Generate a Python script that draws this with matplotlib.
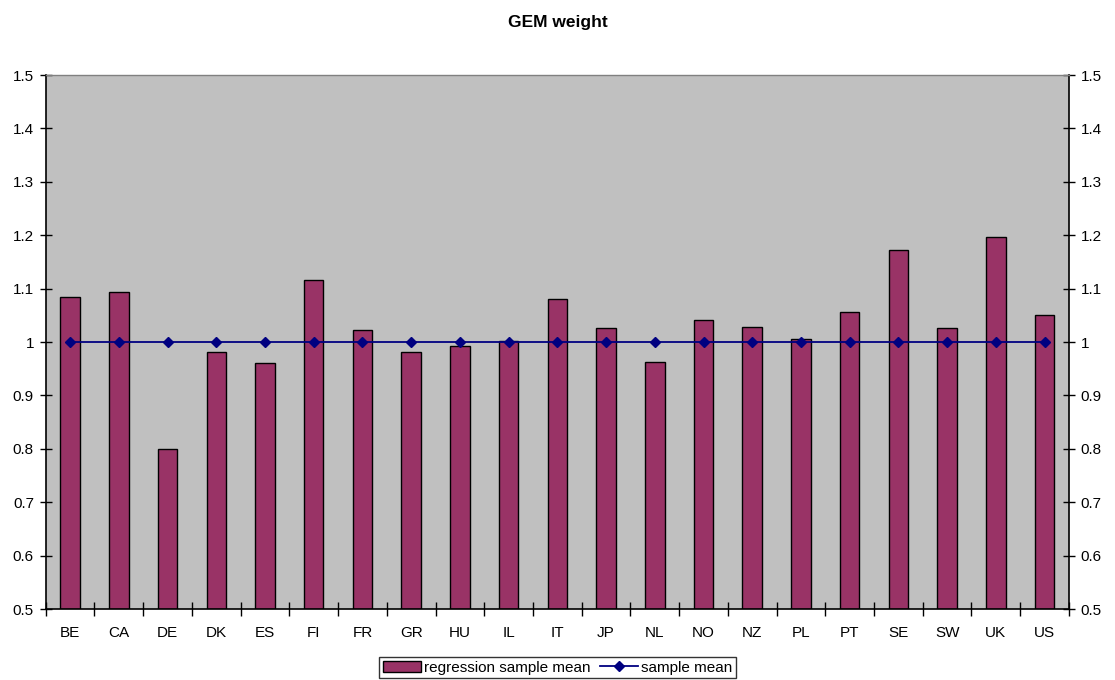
import numpy as np
import matplotlib
matplotlib.use("Agg")
import matplotlib.pyplot as plt

countries = ["BE", "CA", "DE", "DK", "ES", "FI", "FR", "GR", "HU", "IL", "IT",
             "JP", "NL", "NO", "NZ", "PL", "PT", "SE", "SW", "UK", "US"]
regression_mean = [1.085, 1.094, 0.800, 0.982, 0.961, 1.116, 1.022, 0.981, 0.993, 1.002, 1.081,
                   1.026, 0.962, 1.042, 1.028, 1.006, 1.056, 1.172, 1.026, 1.197, 1.051]
sample_mean = [1.0] * len(countries)

plt.rcParams['font.family'] = ['Liberation Sans', 'DejaVu Sans']

fig = plt.figure(figsize=(11.15, 6.8), dpi=100)
ax = fig.add_axes([0.041, 0.1044, 0.9177, 0.7853])
ax.set_facecolor('#C0C0C0')

x = np.arange(len(countries))
bars = ax.bar(x, np.array(regression_mean) - 0.5, bottom=0.5, width=0.4, color='#993366',
              edgecolor='black', linewidth=1, label='regression sample mean', zorder=2)
line, = ax.plot(x, sample_mean, color='#000080', marker='D', markersize=5, linewidth=1.3,
                label='sample mean', zorder=3)

ax.set_xlim(-0.5, len(countries) - 0.5)
ax.set_ylim(0.5, 1.5)
yt = np.round(np.arange(0.5, 1.51, 0.1), 1)
ax.set_yticks(yt)
ax.set_yticklabels([f"{v:g}" for v in yt])
ax.set_xticks(x)
ax.set_xticklabels(countries)
ax.set_xticks(np.arange(-0.5, len(countries), 1), minor=True)
ax.tick_params(axis='x', which='major', length=0, pad=12, labelsize=11)
ax.tick_params(axis='x', which='minor', direction='inout', length=10, width=1)
ax.tick_params(axis='y', direction='inout', length=9, width=1, labelsize=11,
               right=True, labelright=True, pad=4)

for side in ['left', 'bottom', 'right']:
    ax.spines[side].set_color('black')
    ax.spines[side].set_linewidth(1.2)
ax.spines['top'].set_color('#808080')
ax.spines['top'].set_linewidth(1)

fig.suptitle('GEM weight', fontsize=12.5, fontweight='bold', y=0.978)

leg = fig.legend([bars, line], ['regression sample mean', 'sample mean'],
                 loc='lower center', bbox_to_anchor=(0.5, 0.0), ncol=2, fontsize=11,
                 frameon=True, fancybox=False, edgecolor='black', handlelength=2.5,
                 handletextpad=0.2, columnspacing=0.6, borderpad=0.25, borderaxespad=0.1)
leg.get_frame().set_linewidth(1)

fig.savefig('out.png', dpi=100)
